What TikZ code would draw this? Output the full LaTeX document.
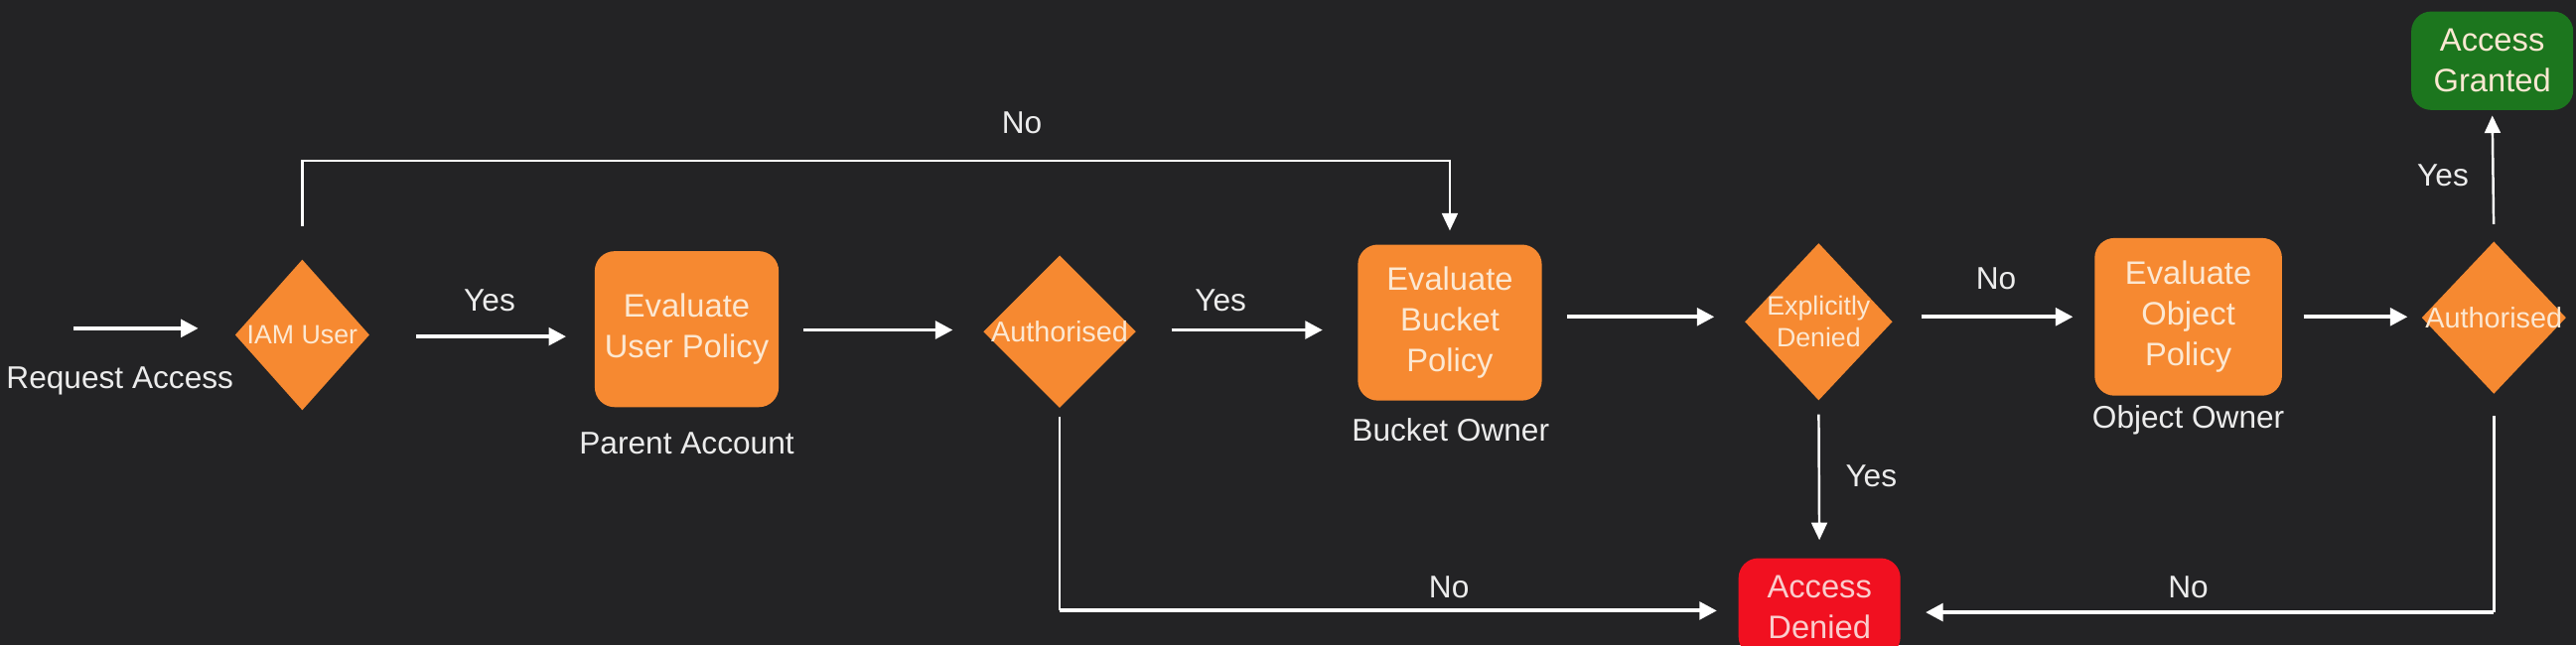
\documentclass[tikz,border=0pt]{standalone}
\usepackage{fontspec}
\setmainfont{Liberation Sans}
\usetikzlibrary{shapes.geometric,arrows.meta}
\definecolor{bg}{RGB}{35,35,37}
\definecolor{org}{RGB}{246,137,49}
\definecolor{grn}{RGB}{28,118,30}
\definecolor{rd}{RGB}{241,16,32}
\definecolor{txt}{RGB}{236,236,236}
\definecolor{boxtxt}{RGB}{252,232,210}
\definecolor{redtxt}{RGB}{250,205,205}
\tikzset{
  dia/.style={diamond, fill=org, inner sep=0pt, minimum width=1.489cm, minimum height=1.555cm},
  dtext/.style={text=boxtxt, font=\fontsize{7.6}{9}\selectfont, align=center, inner sep=0pt},
  pbox/.style={rectangle, rounded corners=0.2cm, fill=org, text=boxtxt, minimum width=1.852cm, minimum height=1.571cm, align=center, inner sep=0pt, font=\fontsize{9.3}{11.6}\selectfont},
  endbox/.style={rectangle, rounded corners=0.2cm, minimum width=1.63cm, minimum height=0.992cm, align=center, inner sep=0pt, font=\fontsize{9.3}{11.6}\selectfont},
  lbl/.style={text=txt, font=\fontsize{9}{11}\selectfont, inner sep=0pt},
  arr/.style={draw=white, line width=1.1pt, -{Triangle[length=5pt,width=5pt]}},
  thin/.style={draw=white, line width=0.7pt},
  thinarr/.style={draw=white, line width=0.7pt, -{Triangle[length=5pt,width=4.5pt]}}
}
\begin{document}
\begin{tikzpicture}[x=0.01654cm, y=-0.01654cm]
\useasboundingbox (0,0) rectangle (1568,393);
\fill[bg] (0,0) rectangle (1568,393);
\begin{scope}
\clip (0,0) rectangle (1568,393);

% nodes
\coordinate (reqstart) at (45,200);
\node[lbl] (reqlbl) at (73,232) {Request Access};
\node[dia, minimum width=1.356cm, minimum height=1.522cm] (iam) at (184,204) {};
\node[dtext] (iamt) at (iam) {IAM User};
\node[pbox] (user) at (418,200.5) {Evaluate\\User Policy};
\node[lbl] (parent) at (418,270) {Parent Account};
\node[dia, minimum width=1.54cm, minimum height=1.54cm] (auth1) at (645,202) {};
\node[dtext, font=\fontsize{8.2}{9}\selectfont] (auth1t) at (auth1) {Authorised};
\node[pbox] (bucket) at (882.5,196.5) {Evaluate\\Bucket\\Policy};
\node[lbl] (bowner) at (883,262) {Bucket Owner};
\node[dia, minimum width=1.489cm, minimum height=1.588cm] (expl) at (1107,196) {};
\node[dtext] (explt) at (expl) {Explicitly\\Denied};
\node[pbox, minimum width=1.886cm, minimum height=1.588cm] (object) at (1332,193) {Evaluate\\Object\\Policy};
\node[lbl] (oowner) at (1332,256) {Object Owner};
\node[dia, minimum width=1.456cm, minimum height=1.538cm] (auth2) at (1518,193.5) {};
\node[dtext, font=\fontsize{8.2}{9}\selectfont] (auth2t) at (auth2) {Authorised};
\node[endbox, fill=grn, text=boxtxt] (granted) at (1517,37) {Access\\Granted};
\node[endbox, fill=rd, text=redtxt] (denied) at (1107.5,370) {Access\\Denied};

% connectors
\draw[arr, shorten >=10.3pt] (reqstart) -- (iam.west |- reqstart);
\draw[arr, shorten <=13.1pt, shorten >=8pt] (iam.east |- 0,205) -- (user.west |- 0,205);
\draw[arr, shorten <=7pt, shorten >=8.5pt] (user.east |- 0,201) -- (auth1.west |- 0,201);
\draw[arr, shorten <=9.9pt, shorten >=9.9pt] (auth1.east |- 0,201) -- (bucket.west |- 0,201);
\draw[arr, shorten <=7pt, shorten >=8.5pt] (bucket.east |- 0,193) -- (expl.west |- 0,193);
\draw[arr, shorten <=8pt, shorten >=6pt] (expl.east |- 0,193) -- (object.west |- 0,193);
\draw[arr, shorten <=6pt, shorten >=3.8pt] (object.east |- 0,193) -- (auth2.west |- 0,193);
\draw[thinarr, shorten <=4.7pt, shorten >=1.4pt] (auth2.north) -- (granted.south);
\draw[thinarr, shorten <=3.8pt, shorten >=5pt] (expl.south) -- (denied.north);
\draw[thinarr, shorten <=9.4pt, shorten >=3.8pt] (iam.north) -- (iam.north |- 0,98) -- (bucket.north |- 0,98) -- (bucket.north);
\draw[thin, shorten <=2.3pt] (auth1.south) -- (auth1.south |- 0,372);
\draw[arr, shorten >=6pt] (auth1.south |- 0,372) -- (denied.west |- 0,372);
\draw[thin, shorten <=6pt] (auth2.south) -- (auth2.south |- 0,373);
\draw[arr, shorten >=7pt] (auth2.south |- 0,373) -- (denied.east |- 0,373);

% labels
\node[lbl] (y1) at (298,183) {Yes};
\node[lbl] (y2) at (743,183) {Yes};
\node[lbl] (n1) at (1215,170) {No};
\node[lbl] (y3) at (1487,107) {Yes};
\node[lbl] (y4) at (1139,290) {Yes};
\node[lbl] (n2) at (622,75) {No};
\node[lbl] (n3) at (882,358) {No};
\node[lbl] (n4) at (1332,358) {No};
\end{scope}
\end{tikzpicture}
\end{document}
